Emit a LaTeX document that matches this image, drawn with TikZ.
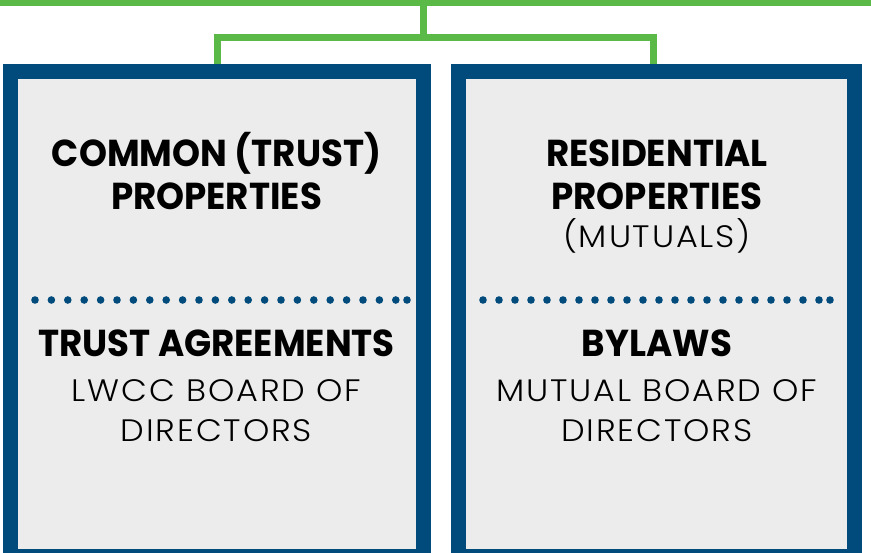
\documentclass[tikz,border=0pt]{standalone}
\usepackage{fontspec}
\usepackage{xcolor}
\newfontfamily\headfont{Poppins}[FakeStretch=0.95]
\newfontfamily\bodyfont{Poppins Light}[FakeStretch=1.08,LetterSpace=6]
\definecolor{leaf}{HTML}{5AB947}
\definecolor{navy}{HTML}{004A7C}
\definecolor{paper}{HTML}{EBECEB}
\begin{document}
\begin{tikzpicture}[x=1pt,y=-1pt,
  wire/.style={draw=leaf,line width=7pt},
  panel/.style={rectangle,draw=navy,fill=paper,line width=15pt,inner sep=0pt,minimum height=485pt},
  headtxt/.style={anchor=base,font=\headfont\bfseries\fontsize{37.5}{43}\selectfont},
  bodytxt/.style={anchor=base,font=\bodyfont\fontsize{31}{40}\selectfont}]
\useasboundingbox (0,0) rectangle (871,553);
% the two boxes
\node [panel,minimum width=413pt] (common) at (217,314) {};
\node [panel,minimum width=396pt] (resid) at (656.5,314) {};
% green tree on top
\coordinate (barL) at (0,2.5);
\coordinate (barR) at (871,2.5);
\coordinate (hubtop) at (423,2.5);
\coordinate (hub) at (423,37.5);
\draw [wire] (barL) -- (barR);
\draw [wire] (hubtop) -- (hub);
\draw [wire] (common.north) |- (hub) -| ([xshift=-3.5pt]resid.north);
% left box text
\node [headtxt] (commonA) at (216.5,167) {COMMON (TRUST)};
\node [headtxt] (commonB) at (216.5,210) {PROPERTIES};
\node [headtxt] (trustA) at (216.5,357) {TRUST AGREEMENTS};
\node [bodytxt] (trustB) at (216.5,402) {LWCC BOARD OF};
\node [bodytxt] (trustC) at (216.5,442) {DIRECTORS};
% right box text
\node [headtxt] (residA) at (657,167) {RESIDENTIAL};
\node [headtxt] (residB) at (657,210) {PROPERTIES};
\node [bodytxt] (residC) at (657,248) {(MUTUALS)};
\node [headtxt] (bylawA) at (657,357) {BYLAWS};
\node [bodytxt] (bylawB) at (657,402) {MUTUAL BOARD OF};
\node [bodytxt] (bylawC) at (657,442) {DIRECTORS};
% dotted rules
\foreach \i in {0,...,22}
  {  \fill [navy] (35+16.4*\i,300) circle (3.8pt);}
\fill [navy] (407,300) circle (3.8pt);
\foreach \i in {0,...,21}
  {  \fill [navy] (483+16*\i,300) circle (3.8pt);}
\fill [navy] (830,300) circle (3.8pt);
\end{tikzpicture}
\end{document}
